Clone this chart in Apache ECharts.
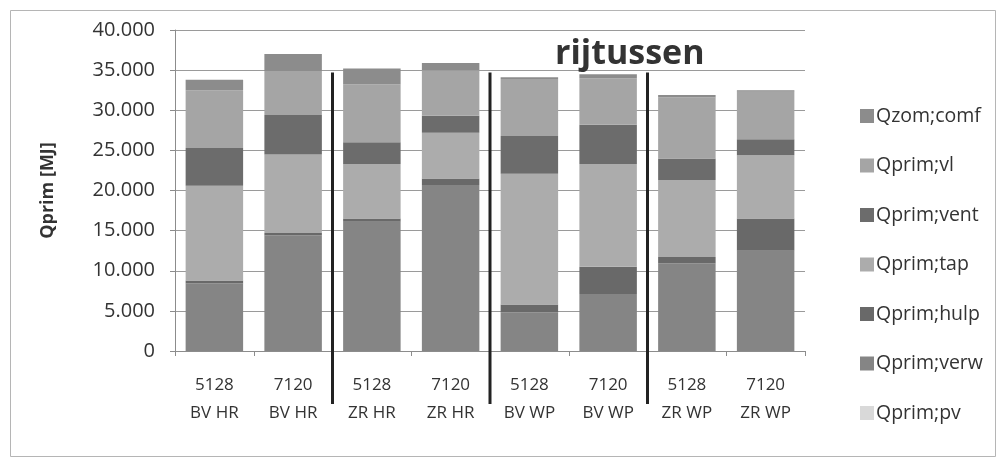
<!DOCTYPE html>
<html>
<head>
<meta charset="utf-8">
<script src="https://cdn.jsdelivr.net/npm/echarts@6/dist/echarts.min.js"></script>
<style>
  html, body { margin: 0; padding: 0; background: #fff; }
  #main { width: 1001px; height: 460px; }
</style>
</head>
<body>
<div id="main"></div>
<script>
// categorieen (variant + scenario)
var categories = [
  "5128\nBV HR", "7120\nBV HR", "5128\nZR HR", "7120\nZR HR",
  "5128\nBV WP", "7120\nBV WP", "5128\nZR WP", "7120\nZR WP"
];
var yTicks = [0, 5000, 10000, 15000, 20000, 25000, 30000, 35000, 40000];

// gestapelde waarden [MJ], van onder naar boven
var qPv   = [0, 0, 0, 0, 0, 0, 0, 0];
var qVerw = [8400, 14400, 16100, 20700, 4800, 7100, 10900, 12500];
var qHulp = [400, 300, 400, 800, 1000, 3400, 800, 4000];
var qTap  = [11800, 9800, 6800, 5700, 16300, 12800, 9600, 7900];
var qVent = [4700, 4900, 2700, 2100, 4700, 4900, 2700, 2000];
var qVl   = [7200, 5500, 7200, 5700, 7100, 5800, 7600, 5900];
var qComf = [1300, 2100, 2000, 900, 200, 500, 300, 200];

// scheidingslijnen tussen de groepen (na categorie-index)
var separatorsAfter = [1, 3, 5];
var sepTopValue = 34700;
var sepBottomValue = -6600;

var seriesDefs = [
  { name: "Qprim;pv",   data: qPv,   color: "#d9d9d9" },
  { name: "Qprim;verw", data: qVerw, color: "#858585" },
  { name: "Qprim;hulp", data: qHulp, color: "#696969" },
  { name: "Qprim;tap",  data: qTap,  color: "#acacac" },
  { name: "Qprim;vent", data: qVent, color: "#6c6c6c" },
  { name: "Qprim;vl",   data: qVl,   color: "#a5a5a5" },
  { name: "Qzom;comf",  data: qComf, color: "#8c8c8c" }
];

var txt = "#333";
var font = "'Open Sans', sans-serif";

var chart = echarts.init(document.getElementById("main"));

var option = {
  backgroundColor: "#fff",
  animation: false,
  textStyle: { fontFamily: font },
  title: {
    text: "rijtussen",
    left: 550,
    top: 32,
    textStyle: { fontSize: 34, fontWeight: "bold", color: "#333", fontFamily: font }
  },
  legend: {
    orient: "vertical",
    left: 855,
    top: 101,
    itemWidth: 14,
    itemHeight: 14,
    itemGap: 29.5,
    icon: "rect",
    data: seriesDefs.map(function (s) { return s.name; }).reverse(),
    textStyle: { fontSize: 19.5, color: txt, padding: [0, 0, 0, -3] }
  },
  grid: { left: 175, right: 196, top: 30, bottom: 109 },
  xAxis: {
    type: "category",
    data: categories,
    axisLine: { lineStyle: { color: "#8c8c8c" } },
    axisTick: { show: true, length: 5, lineStyle: { color: "#8c8c8c" } },
    axisLabel: { color: txt, fontSize: 17, lineHeight: 28, margin: 20 }
  },
  yAxis: {
    type: "value",
    min: yTicks[0],
    max: yTicks[yTicks.length - 1],
    interval: 5000,
    name: "Qprim [MJ]",
    nameLocation: "middle",
    nameGap: 118,
    nameTextStyle: { fontSize: 18, fontWeight: "bold", color: txt },
    axisLine: { show: true, lineStyle: { color: "#8c8c8c" } },
    axisTick: { show: true, length: 5, lineStyle: { color: "#8c8c8c" } },
    splitLine: { lineStyle: { color: "#9a9a9a" } },
    axisLabel: {
      color: txt,
      fontSize: 20,
      margin: 20,
      formatter: function (v) {
        return v === 0 ? "0" : (v / 1000).toFixed(3);
      }
    }
  },
  series: seriesDefs.map(function (s) {
    return {
      name: s.name,
      type: "bar",
      stack: "q",
      barCategoryGap: "27%",
      data: s.data,
      itemStyle: { color: s.color }
    };
  })
};

chart.setOption(option);

// scheidingslijnen en kader via de schalen van de grafiek
var lines = separatorsAfter.map(function (i) {
  var x = (chart.convertToPixel({ xAxisIndex: 0 }, i) + chart.convertToPixel({ xAxisIndex: 0 }, i + 1)) / 2;
  var y1 = chart.convertToPixel({ yAxisIndex: 0 }, sepTopValue);
  var y2 = chart.convertToPixel({ yAxisIndex: 0 }, sepBottomValue);
  return {
    type: "line",
    shape: { x1: x, y1: y1, x2: x, y2: y2 },
    style: { stroke: "#222", lineWidth: 3 },
    z: 100
  };
});
lines.push({
  type: "rect",
  shape: { x: 10.5, y: 10.5, width: 985, height: 446 },
  style: { fill: null, stroke: "#b5b5b5", lineWidth: 1 },
  z: -1
});
chart.setOption({ graphic: lines });
</script>
</body>
</html>
